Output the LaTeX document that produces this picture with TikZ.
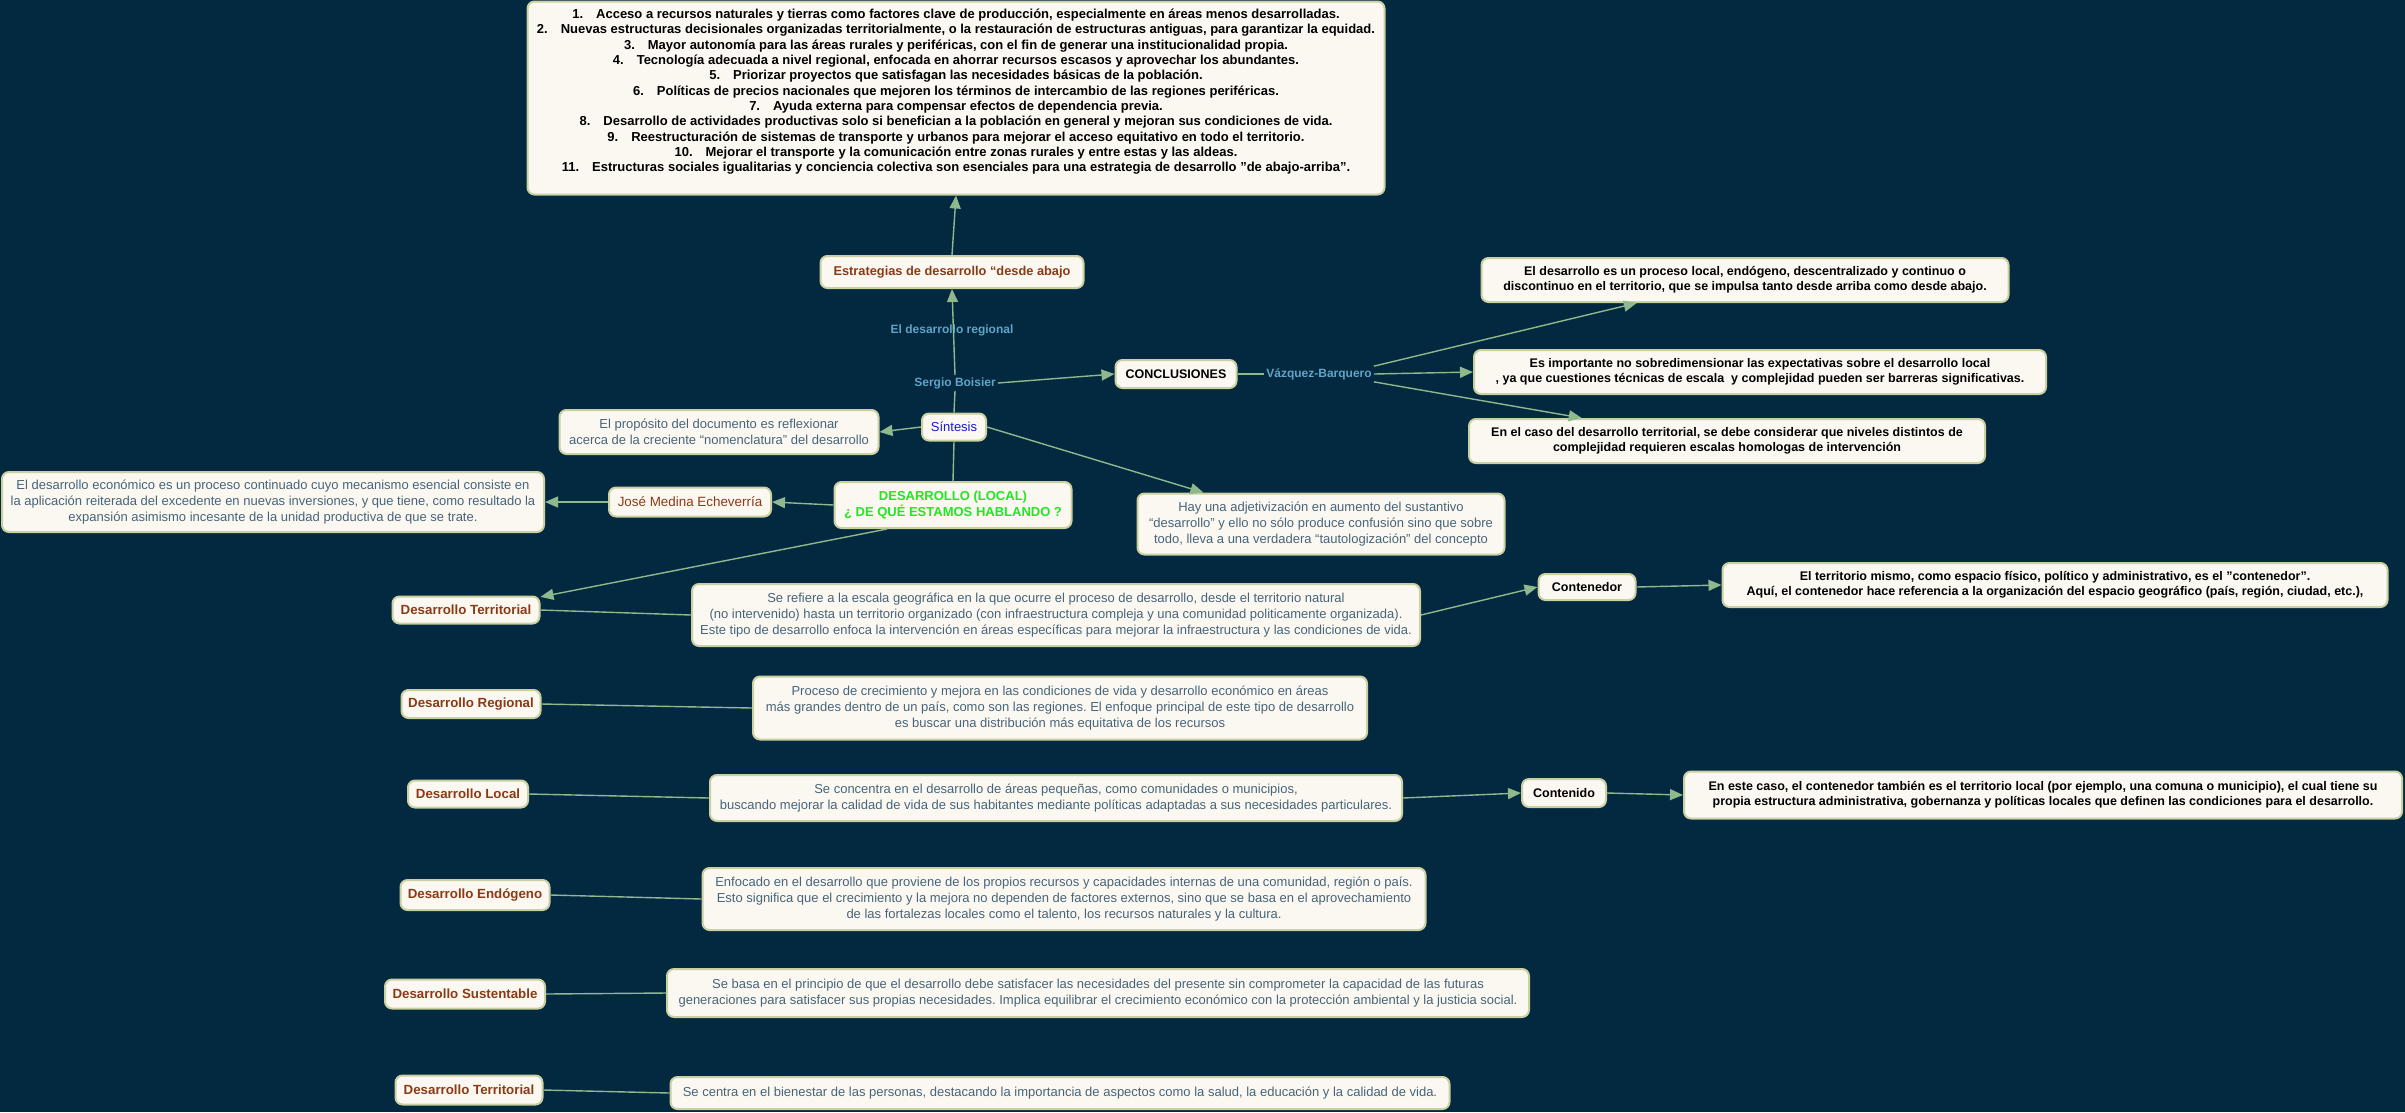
\documentclass[tikz,border=0pt]{standalone}
\usepackage{fontspec}
\setmainfont{Liberation Sans}
\usetikzlibrary{arrows.meta,positioning}
\frenchspacing
\definecolor{mapnavy}{RGB}{2,41,63}
\definecolor{mapfill}{RGB}{251,248,242}
\definecolor{mapedge}{RGB}{203,208,160}
\definecolor{mapline}{RGB}{143,184,140}
\definecolor{mapbrown}{RGB}{139,58,22}
\definecolor{mapgrey}{RGB}{72,100,120}
\definecolor{linkblue}{RGB}{98,163,199}
\definecolor{titlegreen}{RGB}{34,230,34}
\definecolor{sintblue}{RGB}{25,25,205}

\begin{document}
\begin{tikzpicture}[x=1pt,y=-1pt,
  every node/.style={font=\fontsize{13}{16}\selectfont},
  concept/.style={draw=mapedge, fill=mapfill, line width=2pt, rounded corners=7pt, align=center, inner xsep=5pt, inner ysep=4pt},
  brownbox/.style={concept, text=mapbrown, font=\fontsize{13.3}{16}\selectfont\bfseries},
  greybox/.style={concept, text=mapgrey},
  blackbox/.style={concept, text=black, font=\fontsize{12.5}{15.3}\selectfont\bfseries},
  linkword/.style={text=linkblue, font=\fontsize{12}{15}\selectfont\bfseries, inner sep=2pt},
  conn/.style={draw=mapline, line width=1.4pt},
  arr/.style={conn, -{Triangle[length=13pt,width=11pt]}}]
\fill[mapnavy] (0,0) rectangle (2405,1112);
\useasboundingbox (0,0) rectangle (2405,1112);

% centre: sintesis and the strategies above
\node[concept, font=\fontsize{13}{15.3}\selectfont\bfseries, minimum width=857pt, minimum height=193pt] (estrlist) at (956,98) {%
1.\hspace{1em}Acceso a recursos naturales y tierras como factores clave de producción, especialmente en áreas menos desarrolladas.\\
2.\hspace{1em}Nuevas estructuras decisionales organizadas territorialmente, o la restauración de estructuras antiguas, para garantizar la equidad.\\
3.\hspace{1em}Mayor autonomía para las áreas rurales y periféricas, con el fin de generar una institucionalidad propia.\\
4.\hspace{1em}Tecnología adecuada a nivel regional, enfocada en ahorrar recursos escasos y aprovechar los abundantes.\\
5.\hspace{1em}Priorizar proyectos que satisfagan las necesidades básicas de la población.\\
6.\hspace{1em}Políticas de precios nacionales que mejoren los términos de intercambio de las regiones periféricas.\\
7.\hspace{1em}Ayuda externa para compensar efectos de dependencia previa.\\
8.\hspace{1em}Desarrollo de actividades productivas solo si benefician a la población en general y mejoran sus condiciones de vida.\\
9.\hspace{1em}Reestructuración de sistemas de transporte y urbanos para mejorar el acceso equitativo en todo el territorio.\\
10.\hspace{1em}Mejorar el transporte y la comunicación entre zonas rurales y entre estas y las aldeas.\\
11.\hspace{1em}Estructuras sociales igualitarias y conciencia colectiva son esenciales para una estrategia de desarrollo "de abajo-arriba".\\
~};
\node[brownbox, font=\fontsize{12.8}{16}\selectfont\bfseries, minimum width=263pt, minimum height=32pt] (estrat) at (952,272) {Estrategias de desarrollo “desde abajo};
\node[linkword] (desreg) at (952,330) {El desarrollo regional};
\node[linkword] (sergio) at (955,383) {Sergio Boisier};
\node[concept, text=sintblue, minimum width=64pt, minimum height=27pt] (sintesis) at (954,427) {Síntesis};
\node[concept, text=titlegreen, font=\fontsize{13}{16}\selectfont\bfseries, minimum width=237pt, minimum height=46pt] (desloc) at (953,505) {DESARROLLO (LOCAL)\\¿ DE QUÉ ESTAMOS HABLANDO ?};

% conclusiones
\node[blackbox, minimum width=121pt, minimum height=28pt] (conclus) at (1176,374) {CONCLUSIONES};
\node[linkword] (vazquez) at (1319,374) {Vázquez-Barquero};
\node[blackbox, minimum width=527pt, minimum height=44pt] (conclA) at (1745,280) {El desarrollo es un proceso local, endógeno, descentralizado y continuo o\\discontinuo en el territorio, que se impulsa tanto desde arriba como desde abajo.};
\node[blackbox, minimum width=572pt, minimum height=44pt] (conclB) at (1760,372) {Es importante no sobredimensionar las expectativas sobre el desarrollo local\\, ya que cuestiones técnicas de escala\ \ y complejidad pueden ser barreras significativas.};
\node[blackbox, minimum width=516pt, minimum height=44pt] (conclC) at (1727,441) {En el caso del desarrollo territorial, se debe considerar que niveles distintos de\\complejidad requieren escalas homologas de intervención};

% left side
\node[greybox, minimum width=319pt, minimum height=44pt] (proposito) at (719,432) {El propósito del documento es reflexionar\\acerca de la creciente “nomenclatura” del desarrollo};
\node[concept, text=mapbrown, font=\fontsize{13.4}{16}\selectfont, minimum width=162pt, minimum height=29pt] (medina) at (690,502) {José Medina Echeverría};
\node[greybox, minimum width=542pt, minimum height=60pt] (economico) at (273,502) {El desarrollo económico es un proceso continuado cuyo mecanismo esencial consiste en\\la aplicación reiterada del excedente en nuevas inversiones, y que tiene, como resultado la\\expansión asimismo incesante de la unidad productiva de que se trate.};
\node[greybox, minimum width=367pt, minimum height=61pt] (adjetiv) at (1321,524) {Hay una adjetivización en aumento del sustantivo\\“desarrollo” y ello no sólo produce confusión sino que sobre\\todo, lleva a una verdadera “tautologización” del concepto};

% tipos de desarrollo
\node[brownbox, minimum width=147pt, minimum height=27pt] (terr1) at (466,610) {Desarrollo Territorial};
\node[greybox, minimum width=728pt, minimum height=62pt] (terrdesc) at (1056,615) {Se refiere a la escala geográfica en la que ocurre el proceso de desarrollo, desde el territorio natural\\(no intervenido) hasta un territorio organizado (con infraestructura compleja y una comunidad politicamente organizada).\\Este tipo de desarrollo enfoca la intervención en áreas específicas para mejorar la infraestructura y las condiciones de vida.};
\node[blackbox, minimum width=97pt, minimum height=26pt] (contenedor) at (1587,587) {Contenedor};
\node[blackbox, minimum width=665pt, minimum height=44pt] (contbox) at (2055,585) {El territorio mismo, como espacio físico, político y administrativo, es el "contenedor".\\Aquí, el contenedor hace referencia a la organización del espacio geográfico (país, región, ciudad, etc.),};
\node[brownbox, minimum width=139pt, minimum height=28pt] (regional) at (471,704) {Desarrollo Regional};
\node[greybox, minimum width=614pt, minimum height=63pt] (regdesc) at (1060,708) {Proceso de crecimiento y mejora en las condiciones de vida y desarrollo económico en áreas\\más grandes dentro de un país, como son las regiones. El enfoque principal de este tipo de desarrollo\\es buscar una distribución más equitativa de los recursos};
\node[brownbox, minimum width=120pt, minimum height=27pt] (local) at (468,794) {Desarrollo Local};
\node[greybox, minimum width=692pt, minimum height=46pt] (localdesc) at (1056,798) {Se concentra en el desarrollo de áreas pequeñas, como comunidades o municipios,\\buscando mejorar la calidad de vida de sus habitantes mediante políticas adaptadas a sus necesidades particulares.};
\node[blackbox, minimum width=84pt, minimum height=28pt] (contenido) at (1564,793) {Contenido};
\node[blackbox, minimum width=718pt, minimum height=47pt] (contidobox) at (2043,795) {En este caso, el contenedor también es el territorio local (por ejemplo, una comuna o municipio), el cual tiene su\\propia estructura administrativa, gobernanza y políticas locales que definen las condiciones para el desarrollo.};
\node[brownbox, minimum width=149pt, minimum height=30pt] (endogeno) at (475,895) {Desarrollo Endógeno};
\node[greybox, minimum width=723pt, minimum height=62pt] (endodesc) at (1064,899) {Enfocado en el desarrollo que proviene de los propios recursos y capacidades internas de una comunidad, región o país.\\Esto significa que el crecimiento y la mejora no dependen de factores externos, sino que se basa en el aprovechamiento\\de las fortalezas locales como el talento, los recursos naturales y la cultura.};
\node[brownbox, minimum width=160pt, minimum height=29pt] (sustent) at (465,994) {Desarrollo Sustentable};
\node[greybox, minimum width=862pt, minimum height=48pt] (sustdesc) at (1098,993) {Se basa en el principio de que el desarrollo debe satisfacer las necesidades del presente sin comprometer la capacidad de las futuras\\generaciones para satisfacer sus propias necesidades. Implica equilibrar el crecimiento económico con la protección ambiental y la justicia social.};
\node[brownbox, minimum width=147pt, minimum height=29pt] (terr2) at (469,1090) {Desarrollo Territorial};
\node[greybox, minimum width=779pt, minimum height=32pt] (terr2desc) at (1060,1093) {Se centra en el bienestar de las personas, destacando la importancia de aspectos como la salud, la educación y la calidad de vida.};

% connectors
\draw[conn] (sintesis.north) -- (sergio.south);
\draw[arr] (sergio.north) -- (estrat.south);
\draw[arr] (estrat.north) -- (estrlist.south);
\draw[arr] (sergio.east) -- (conclus.west);
\draw[conn] (conclus.east) -- (vazquez.west);
\draw[arr] (vazquez.north east) -- (conclA.192);
\draw[arr] (vazquez.east) -- (conclB.west);
\draw[arr] (vazquez.south east) -- (conclC.171);
\draw[arr] (sintesis.west) -- (proposito.east);
\draw[conn] (sintesis.south) -- (desloc.north);
\draw[arr] (sintesis.east) -- (adjetiv.165);
\draw[arr] (desloc.west) -- (medina.east);
\draw[arr] (medina.west) -- (economico.east);
\draw[arr] (desloc.200) -- (terr1.10);
\draw[conn] (terr1.east) -- (terrdesc.west);
\draw[arr] (terrdesc.east) -- (contenedor.west);
\draw[arr] (contenedor.east) -- (contbox.west);
\draw[conn] (regional.east) -- (regdesc.west);
\draw[conn] (local.east) -- (localdesc.west);
\draw[arr] (localdesc.east) -- (contenido.west);
\draw[arr] (contenido.east) -- (contidobox.west);
\draw[conn] (endogeno.east) -- (endodesc.west);
\draw[conn] (sustent.east) -- (sustdesc.west);
\draw[conn] (terr2.east) -- (terr2desc.west);
\end{tikzpicture}
\end{document}
